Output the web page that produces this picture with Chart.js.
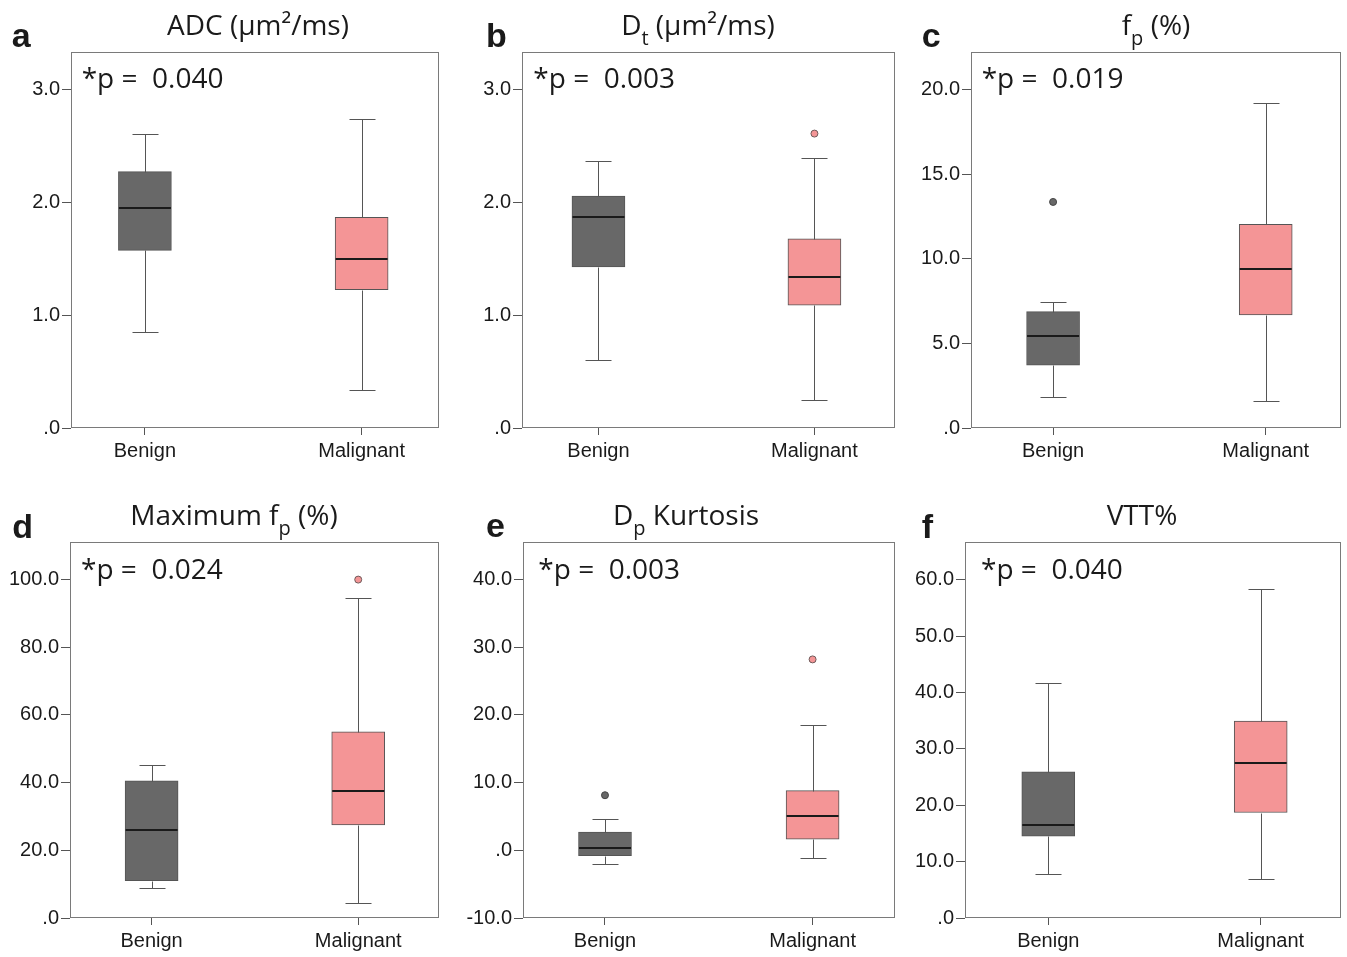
<!DOCTYPE html>
<html>
<head>
<meta charset="utf-8">
<script src="https://cdn.jsdelivr.net/npm/chart.js@4.4.0/dist/chart.umd.min.js"></script>
<style>
html,body{margin:0;padding:0;background:#ffffff;width:1347px;height:957px;overflow:hidden;}
canvas{position:absolute;}
</style>
</head>
<body>
<canvas id="pa" width="450" height="470" style="left:0px;top:0px"></canvas>
<canvas id="pb" width="450" height="470" style="left:450px;top:0px"></canvas>
<canvas id="pc" width="447" height="470" style="left:900px;top:0px"></canvas>
<canvas id="pd" width="450" height="487" style="left:0px;top:470px"></canvas>
<canvas id="pe" width="450" height="487" style="left:450px;top:470px"></canvas>
<canvas id="pf" width="447" height="487" style="left:900px;top:470px"></canvas>
<script>
// ---------------- DATA ----------------
const categories = ['Benign', 'Malignant'];

// five-number summaries: [lower whisker, Q1, median, Q3, upper whisker]
const adcBenign    = [0.85, 1.575, 1.954, 2.273, 2.606];
const adcMalignant = [0.334, 1.227, 1.498, 1.868, 2.737];
const adcTicks     = [0, 1, 2, 3];

const dtBenign     = [0.603, 1.427, 1.871, 2.057, 2.367];
const dtMalignant  = [0.251, 1.088, 1.339, 1.676, 2.397];
const dtOutliersM  = [2.61];
const dtTicks      = [0, 1, 2, 3];

const fpBenign     = [1.86, 3.72, 5.46, 6.88, 7.45];
const fpOutliersB  = [13.36];
const fpMalignant  = [1.58, 6.68, 9.42, 12.04, 19.21];
const fpTicks      = [0, 5, 10, 15, 20];

const maxFpBenign    = [8.9, 11.0, 26.0, 40.5, 45.1];
const maxFpMalignant = [4.4, 27.5, 37.5, 55.0, 94.6];
const maxFpOutliersM = [100.0];
const maxFpTicks     = [0, 20, 40, 60, 80, 100];

const kurtBenign     = [-2.03, -0.79, 0.34, 2.71, 4.63];
const kurtOutliersB  = [8.14];
const kurtMalignant  = [-1.08, 1.63, 5.03, 8.83, 18.49];
const kurtOutliersM  = [28.21];
const kurtTicks      = [-10, 0, 10, 20, 30, 40];

const vttBenign    = [7.75, 14.5, 16.5, 25.9, 41.7];
const vttMalignant = [6.9, 18.7, 27.5, 34.9, 58.3];
const vttTicks     = [0, 10, 20, 30, 40, 50, 60];

const pValues = ['0.040', '0.003', '0.019', '0.024', '0.003', '0.040'];
const panelLetters = ['a', 'b', 'c', 'd', 'e', 'f'];
const titles = [
  [{t: 'ADC (μm²/ms)'}],
  [{t: 'D'}, {t: 't', sub: true}, {t: ' (μm²/ms)'}],
  [{t: 'f'}, {t: 'p', sub: true}, {t: ' (%)'}],
  [{t: 'Maximum f'}, {t: 'p', sub: true}, {t: ' (%)'}],
  [{t: 'D'}, {t: 'p', sub: true}, {t: ' Kurtosis'}],
  [{t: 'VTT%'}]
];

// ---------------- STYLE ----------------
const BENIGN_FILL = '#686868';
const MALIGN_FILL = '#f49596';
const EDGE = '#555555';
const FRAME = '#7a7a7a';
const TEXT = '#1a1a1a';
const TITLE_FONT = '"Open Sans", "Noto Sans", sans-serif';
const TICK_FONT = '"Liberation Sans", Arial, sans-serif';
const BOX_W = 53;
const CAP_W = 26;
const YW = 60, XH = 35;

// ---------------- LAYOUT ----------------
const panels = [
  {id:'pa', cx:0,   cy:0,   cw:450, ch:470, frame:[71,439,52,428],  xr:[0.659,2.357], letter:[11.7,47], titleC:258, titleB:35, pPos:[81.7,88],
   ticks:adcTicks, b:adcBenign, m:adcMalignant, ob:[], om:[]},
  {id:'pb', cx:450, cy:0,   cw:450, ch:470, frame:[522,898,52,428], xr:[0.646,2.373], letter:[36,47], titleC:248, titleB:35, pPos:[83.3,88],
   ticks:dtTicks, b:dtBenign, m:dtMalignant, ob:[], om:dtOutliersM},
  {id:'pc', cx:900, cy:0,   cw:447, ch:470, frame:[971,1341,52,428], xr:[0.614,2.354], letter:[21.7,47], titleC:256, titleB:35, pPos:[81.7,88],
   ticks:fpTicks, b:fpBenign, m:fpMalignant, ob:fpOutliersB, om:[]},
  {id:'pd', cx:0,   cy:470, cw:450, ch:487, frame:[70,439,542,918], xr:[0.605,2.391], letter:[12.3,68], titleC:234, titleB:55, pPos:[81,108.7],
   ticks:maxFpTicks, b:maxFpBenign, m:maxFpMalignant, ob:[], om:maxFpOutliersM},
  {id:'pe', cx:450, cy:470, cw:450, ch:487, frame:[523,898,542,918], xr:[0.605,2.397], letter:[36,67.3], titleC:236, titleB:55, pPos:[88.3,108.7],
   ticks:kurtTicks, b:kurtBenign, m:kurtMalignant, ob:kurtOutliersB, om:kurtOutliersM},
  {id:'pf', cx:900, cy:470, cw:447, ch:487, frame:[965,1341,542,918], xr:[0.608,2.378], letter:[21.7,68], titleC:242, titleB:55, pPos:[81,108.7],
   ticks:vttTicks, b:vttBenign, m:vttMalignant, ob:[], om:[]}
];

function fmtTick(v) {
  let s = Number(v).toFixed(1);
  if (s.startsWith('0.')) s = s.slice(1);
  return s;
}

function boxPlugin(stats) {
  return {
    id: 'boxWhiskers',
    afterDatasetsDraw(chart) {
      const ctx = chart.ctx, x = chart.scales.x, y = chart.scales.y;
      ctx.save();
      stats.forEach((s, i) => {
        const c = x.getPixelForValue(i + 1);
        const lx = Math.round(c) + 0.5;
        const py = v => Math.round(y.getPixelForValue(v)) + 0.5;
        ctx.strokeStyle = EDGE; ctx.lineWidth = 1;
        ctx.beginPath();
        ctx.moveTo(lx, py(s[3])); ctx.lineTo(lx, py(s[4]));
        ctx.moveTo(lx, py(s[1])); ctx.lineTo(lx, py(s[0]));
        ctx.moveTo(lx - CAP_W / 2, py(s[4])); ctx.lineTo(lx + CAP_W / 2, py(s[4]));
        ctx.moveTo(lx - CAP_W / 2, py(s[0])); ctx.lineTo(lx + CAP_W / 2, py(s[0]));
        ctx.stroke();
        ctx.strokeStyle = '#1a1a1a'; ctx.lineWidth = 2;
        const my = Math.round(y.getPixelForValue(s[2]));
        ctx.beginPath();
        ctx.moveTo(c - BOX_W / 2 + 0.5, my); ctx.lineTo(c + BOX_W / 2 - 0.5, my);
        ctx.stroke();
      });
      const a = chart.chartArea;
      ctx.strokeStyle = FRAME; ctx.lineWidth = 1;
      ctx.strokeRect(Math.round(a.left) + 0.5, Math.round(a.top) + 0.5,
                     Math.round(a.right - a.left) - 1, Math.round(a.bottom - a.top) - 1);
      ctx.restore();
    }
  };
}

function textPlugin(i, p) {
  return {
    id: 'panelText',
    afterDraw(chart) {
      const ctx = chart.ctx;
      ctx.save();
      ctx.fillStyle = TEXT;
      ctx.textBaseline = 'alphabetic';
      ctx.textAlign = 'left';
      ctx.font = 'bold 34px "Liberation Sans", Arial, sans-serif';
      ctx.fillText(panelLetters[i], p.letter[0], p.letter[1]);
      const main = '28px ' + TITLE_FONT, sub = '20px ' + TITLE_FONT;
      let w = 0;
      titles[i].forEach(r => { ctx.font = r.sub ? sub : main; w += ctx.measureText(r.t).width; });
      let tx = p.titleC - w / 2;
      titles[i].forEach(r => {
        ctx.font = r.sub ? sub : main;
        ctx.fillText(r.t, tx, p.titleB + (r.sub ? 10 : 0));
        tx += ctx.measureText(r.t).width;
      });
      ctx.font = main;
      ctx.fillText('*p =  ' + pValues[i], p.pPos[0], p.pPos[1]);
      ctx.restore();
    }
  };
}

panels.forEach((p, i) => {
  const yMin = p.ticks[0];
  const yMax = yMin + (p.ticks[p.ticks.length - 1] - yMin) / 0.9;
  const [fl, fr, ft, fb] = p.frame;
  const outliers = p.ob.map(v => ({x: 1, y: v})).concat(p.om.map(v => ({x: 2, y: v})));
  const outColors = p.ob.map(() => BENIGN_FILL).concat(p.om.map(() => MALIGN_FILL));
  const outBorders = p.ob.map(() => '#444444').concat(p.om.map(() => '#6e5a5a'));
  new Chart(document.getElementById(p.id), {
    type: 'bar',
    data: {
      datasets: [
        {
          type: 'bar',
          data: [{x: 1, y: [p.b[1], p.b[3]]}, {x: 2, y: [p.m[1], p.m[3]]}],
          backgroundColor: [BENIGN_FILL, MALIGN_FILL],
          borderColor: EDGE,
          borderWidth: 1,
          borderSkipped: false,
          barThickness: BOX_W
        },
        {
          type: 'scatter',
          data: outliers,
          pointRadius: 3.5,
          pointBackgroundColor: outColors,
          pointBorderColor: outBorders,
          pointBorderWidth: 1
        }
      ]
    },
    options: {
      responsive: false,
      animation: false,
      devicePixelRatio: 1,
      events: [],
      layout: {padding: {left: fl - p.cx - YW, right: p.cx + p.cw - fr, top: ft - p.cy, bottom: p.cy + p.ch - fb - XH}},
      plugins: {legend: {display: false}, tooltip: {enabled: false}},
      scales: {
        x: {
          type: 'linear', min: p.xr[0], max: p.xr[1], offset: false,
          afterBuildTicks: s => { s.ticks = [{value: 1}, {value: 2}]; },
          afterFit: s => { s.height = XH; },
          ticks: {callback: (v, idx) => categories[idx], font: {family: TICK_FONT, size: 20}, color: TEXT, padding: 4, maxRotation: 0, autoSkip: false},
          grid: {offset: false, drawOnChartArea: false, drawTicks: true, tickLength: 7, color: EDGE},
          border: {display: false}
        },
        y: {
          type: 'linear', min: yMin, max: yMax,
          afterBuildTicks: s => { s.ticks = p.ticks.map(v => ({value: v})); },
          afterFit: s => { s.width = YW; },
          ticks: {callback: v => fmtTick(v), font: {family: TICK_FONT, size: 20}, color: TEXT, padding: 2, autoSkip: false},
          grid: {drawOnChartArea: false, drawTicks: true, tickLength: 9, color: EDGE},
          border: {display: false}
        }
      }
    },
    plugins: [boxPlugin([p.b, p.m]), textPlugin(i, p)]
  });
});
</script>
</body>
</html>
